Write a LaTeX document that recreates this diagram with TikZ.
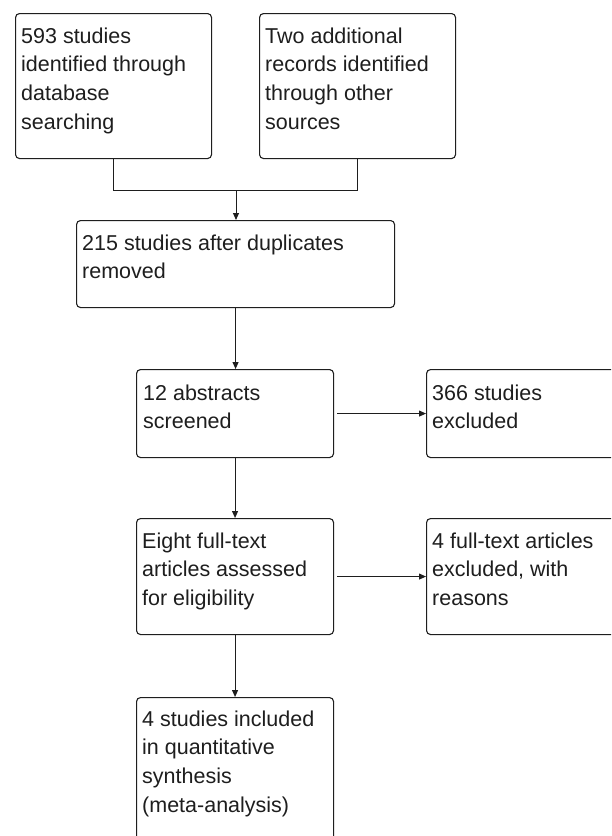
\documentclass[tikz,border=0pt]{standalone}
\usepackage{fontspec}
\setmainfont{Liberation Sans}
\usetikzlibrary{arrows.meta}
\definecolor{ink}{HTML}{1E1E1E}
\tikzset{
  x=1pt, y=-1pt,
  box/.style={draw=ink, line width=1.1pt, rounded corners=4pt, fill=white,
    inner sep=0pt, anchor=north west},
  txt/.style={inner sep=0pt, anchor=north west, align=left, text=ink,
    font=\fontsize{21.5}{28.7}\selectfont},
  conn/.style={draw=ink, line width=1pt},
  arr/.style={conn, -{Triangle[length=7pt,width=6pt]}},
}
\begin{document}
\begin{tikzpicture}
\useasboundingbox (0,0) rectangle (611,836);
\clip (0,0) rectangle (611,836);
\fill[white] (0,0) rectangle (611,836);
% boxes
\node[box, minimum width=196pt, minimum height=145pt] (b1) at (15,13) {};
\node[box, minimum width=196pt, minimum height=145pt] (b2) at (259,13) {};
\node[box, minimum width=318pt, minimum height=87pt] (b3) at (76,220) {};
\node[box, minimum width=197pt, minimum height=88pt] (b4) at (136,369) {};
\node[box, minimum width=230pt, minimum height=88pt] (b5) at (426,369) {};
\node[box, minimum width=197pt, minimum height=116pt] (b6) at (136,518) {};
\node[box, minimum width=230pt, minimum height=116pt] (b7) at (426,518) {};
\node[box, minimum width=197pt, minimum height=170pt] (b8) at (136,697) {};
% texts
\node[txt] (t1) at ([xshift=6pt,yshift=-9.9pt]b1.north west) {\strut 593 studies\\identified through\\database\\searching};
\node[txt] (t2) at ([xshift=6pt,yshift=-9.9pt]b2.north west) {\strut Two additional\\records identified\\through other\\sources};
\node[txt] (t3) at ([xshift=6pt,yshift=-9.9pt]b3.north west) {\strut 215 studies after duplicates\\removed};
\node[txt] (t4) at ([xshift=7pt,yshift=-10.9pt]b4.north west) {\strut 12 abstracts\\screened};
\node[txt] (t5) at ([xshift=6pt,yshift=-10.9pt]b5.north west) {\strut 366 studies\\excluded};
\node[txt] (t6) at ([xshift=6pt,yshift=-9.9pt]b6.north west) {\strut Eight full-text\\articles assessed\\for eligibility};
\node[txt] (t7) at ([xshift=6pt,yshift=-9.9pt]b7.north west) {\strut 4 full-text articles\\excluded, with\\reasons};
\node[txt] (t8) at ([xshift=6pt,yshift=-8.9pt]b8.north west) {\strut 4 studies included\\in quantitative\\synthesis\\(meta-analysis)};
% connectors
\coordinate (j) at (236,190);
\draw[conn] (b1.south) |- (b2.south |- j) -- (b2.south);
\draw[arr] (j) -- (j |- b3.north);
\draw[arr] (b3.south) -- (b3.south |- b4.north);
\draw[arr, shorten <=3pt] (b4.east) -- (b5.west);
\draw[arr] (b4.south) -- (b6.north);
\draw[arr, shorten <=3pt] (b6.east) -- (b7.west);
\draw[arr] (b6.south) -- (b8.north);
\end{tikzpicture}
\end{document}
